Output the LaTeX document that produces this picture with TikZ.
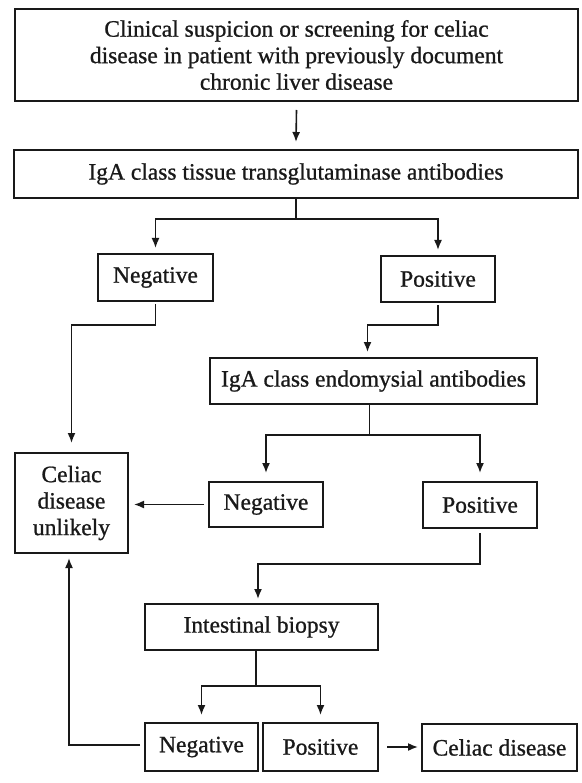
\documentclass[tikz,border=0pt]{standalone}
\usepackage{fontspec}
\setmainfont{Liberation Serif}[FakeBold=0.9]
\usetikzlibrary{arrows.meta}
\begin{document}
\begin{tikzpicture}[x=1pt,y=-1pt,
  box/.style={draw=black!90, line width=1.6pt, inner sep=0pt, outer sep=0pt, align=center,
    font=\fontsize{23.5}{26.5}\selectfont, text=black!90},
  ln/.style={draw=black!90, line width=1.6pt},
  arr/.style={ln, -{Latex[length=10pt,width=8pt]}}]
\useasboundingbox (0,0) rectangle (581,783);
% nodes
\node[box, minimum width=563pt, minimum height=92pt] (top) at (296.5,55)
  {Clinical suspicion or screening for celiac\\disease in patient with previously document\\chronic liver disease};
\node[box, minimum width=564pt, minimum height=48pt] (tg) at (296,174)
  {IgA class tissue transglutaminase antibodies};
\node[box, minimum width=115pt, minimum height=47pt] (neg1) at (155.5,277.5) {Negative};
\node[box, minimum width=114pt, minimum height=46pt] (pos1) at (438,279) {Positive};
\node[box, minimum width=113pt, minimum height=100pt] (unl) at (71.5,503) {Celiac\\disease\\unlikely};
\node[box, minimum width=327pt, minimum height=46pt] (endo) at (373.5,381) {IgA class endomysial antibodies};
\node[box, minimum width=114pt, minimum height=45pt] (neg2) at (266,504.5) {Negative};
\node[box, minimum width=114pt, minimum height=46pt] (pos2) at (480,505) {Positive};
\node[box, minimum width=233pt, minimum height=46pt] (bio) at (261.5,627) {Intestinal biopsy};
\node[box, minimum width=113pt, minimum height=48pt] (neg3) at (201.5,747) {Negative};
\node[box, minimum width=115pt, minimum height=48pt] (pos3) at (320.5,747) {Positive};
\node[box, minimum width=155pt, minimum height=47pt] (cel) at (499.5,747.5) {Celiac disease};
% connectors
\draw[arr] ([yshift=-9pt]top.south) -- ([yshift=8pt]tg.north);
\draw[ln] (tg.south) -- ++(0,21) coordinate (j1);
\draw[arr] (j1) -| ([yshift=6pt]neg1.north);
\draw[arr] (j1) -| ([yshift=6pt]pos1.north);
\draw[arr] ([yshift=-3pt]neg1.south) -- ++(0,21) -| ([yshift=10pt]unl.north);
\draw[arr] ([yshift=-3pt]pos1.south) -- ++(0,20) -| ([xshift=-6pt,yshift=6pt]endo.north);
\draw[ln] ([xshift=-4pt]endo.south) -- ++(0,31) coordinate (j2);
\draw[arr] (j2) -| ([yshift=9pt]neg2.north);
\draw[arr] (j2) -| ([yshift=9pt]pos2.north);
\draw[arr] ([xshift=-5pt]neg2.west) -- ([xshift=6pt]unl.east |- neg2.west);
\draw[arr] ([yshift=-5pt]pos2.south) -- ++(0,31) -| ([xshift=-3.5pt,yshift=5pt]bio.north);
\draw[ln] ([xshift=-5.5pt]bio.south) -- ++(0,36) coordinate (j3);
\draw[arr] (j3) -| ([yshift=8pt]neg3.north);
\draw[arr] (j3) -| ([yshift=8pt]pos3.north);
\draw[arr] ([xshift=-5pt]neg3.west |- 0,745) -| ([xshift=-2.5pt,yshift=-5pt]unl.south);
\draw[arr] ([xshift=9pt]pos3.east) -- ([xshift=-4pt]cel.west |- pos3.east);
\end{tikzpicture}
\end{document}
